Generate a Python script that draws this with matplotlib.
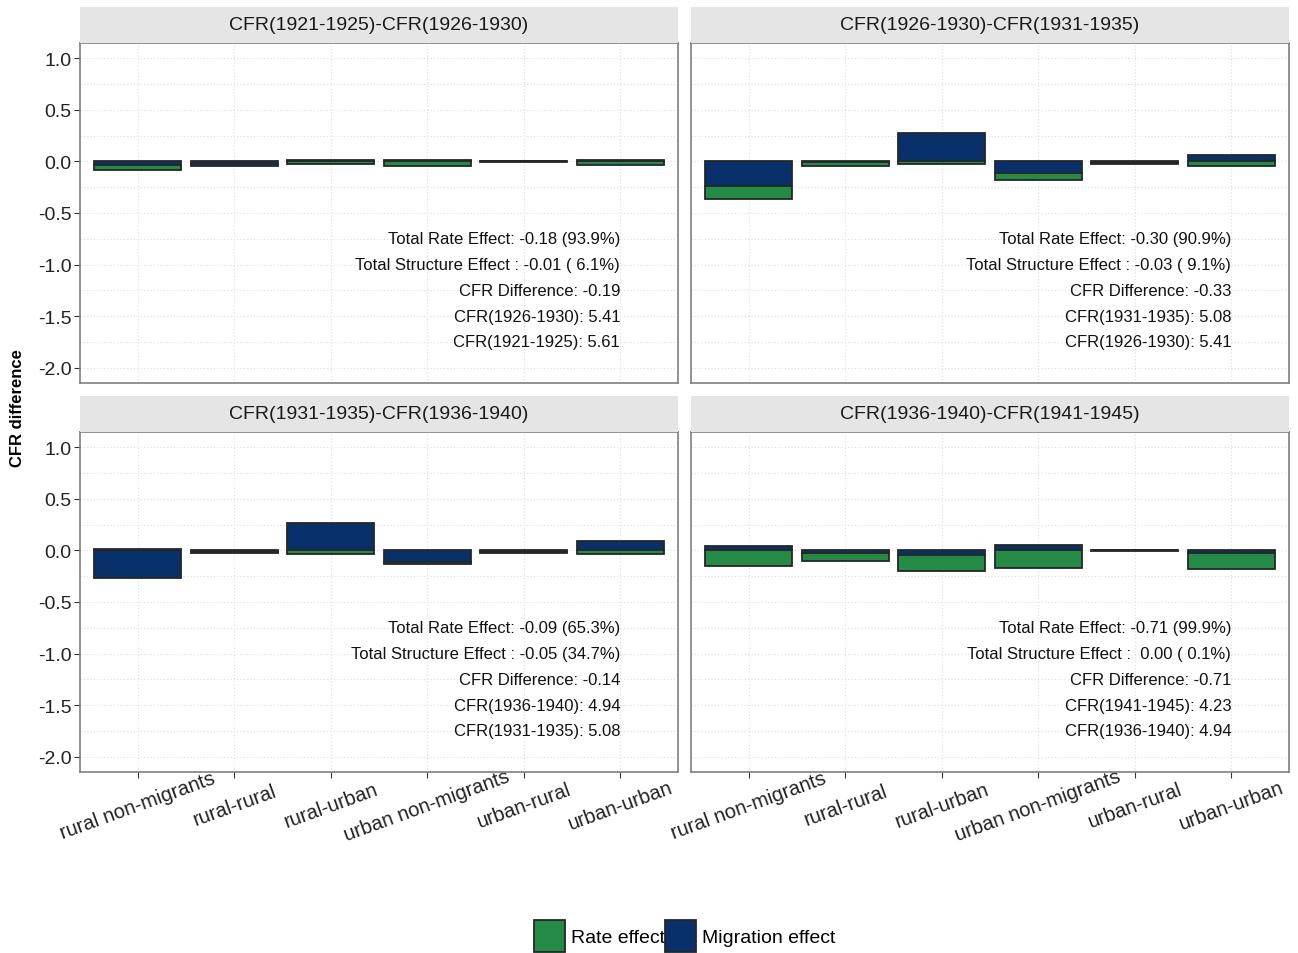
import matplotlib
matplotlib.use("Agg")
import matplotlib.pyplot as plt
from matplotlib.patches import Patch, Rectangle
import numpy as np

plt.rcParams['font.family'] = ['Liberation Sans', 'DejaVu Sans']

categories = ['rural non-migrants', 'rural-rural', 'rural-urban',
              'urban non-migrants', 'urban-rural', 'urban-urban']

panel_titles = ['CFR(1921-1925)-CFR(1926-1930)', 'CFR(1926-1930)-CFR(1931-1935)',
                'CFR(1931-1935)-CFR(1936-1940)', 'CFR(1936-1940)-CFR(1941-1945)']

rate_effect = [
    [-0.05, -0.02, -0.025, -0.045, -0.005, -0.035],
    [-0.12, -0.04, -0.02, -0.07, -0.01, -0.04],
    [0.015, -0.01, -0.035, -0.02, -0.005, -0.035],
    [-0.155, -0.075, -0.15, -0.17, -0.004, -0.16],
]
migration_effect = [
    [-0.03, -0.02, 0.01, 0.01, 0.005, 0.015],
    [-0.24, -0.005, 0.28, -0.11, -0.015, 0.06],
    [-0.27, -0.01, 0.27, -0.115, -0.015, 0.09],
    [0.04, -0.025, -0.045, 0.05, 0.002, -0.02],
]

annotations = [
    ['Total Rate Effect: -0.18 (93.9%)', 'Total Structure Effect : -0.01 ( 6.1%)',
     'CFR Difference: -0.19', 'CFR(1926-1930): 5.41', 'CFR(1921-1925): 5.61'],
    ['Total Rate Effect: -0.30 (90.9%)', 'Total Structure Effect : -0.03 ( 9.1%)',
     'CFR Difference: -0.33', 'CFR(1931-1935): 5.08', 'CFR(1926-1930): 5.41'],
    ['Total Rate Effect: -0.09 (65.3%)', 'Total Structure Effect : -0.05 (34.7%)',
     'CFR Difference: -0.14', 'CFR(1936-1940): 4.94', 'CFR(1931-1935): 5.08'],
    ['Total Rate Effect: -0.71 (99.9%)', 'Total Structure Effect :  0.00 ( 0.1%)',
     'CFR Difference: -0.71', 'CFR(1941-1945): 4.23', 'CFR(1936-1940): 4.94'],
]
annotation_y = [-0.75, -1.0, -1.25, -1.5, -1.75]

green = '#238b45'
blue = '#08306b'
edge = '#262626'

W, H = 1298, 954
fig = plt.figure(figsize=(W / 100, H / 100), dpi=100)

# panel boxes in pixels: left, top
boxes = [(80, 44), (691, 44), (80, 433), (691, 433)]
pw, ph, strip_h = 598, 340, 36

x = np.arange(1, len(categories) + 1)
for i, (left, top) in enumerate(boxes):
    ax = fig.add_axes([left / W, 1 - (top + ph) / H, pw / W, ph / H])
    mig = np.array(migration_effect[i])
    rate = np.array(rate_effect[i])
    # positives and negatives are stacked separately, migration nearest zero
    rate_bottom = np.where(np.sign(rate) == np.sign(mig), mig, 0)
    ax.bar(x, mig, width=0.9, color=blue, edgecolor=edge, linewidth=1.3, zorder=3)
    ax.bar(x, rate, bottom=rate_bottom, width=0.9, color=green, edgecolor=edge,
           linewidth=1.3, zorder=3)

    for txt, yy in zip(annotations[i], annotation_y):
        ax.text(6, yy, txt, ha='right', va='center', fontsize=12, color='#111111', zorder=4)

    ax.set_xlim(0.4, 6.6)
    ax.set_ylim(-2.15, 1.15)
    ax.set_xticks(x)
    ax.set_yticks([1.0, 0.5, 0.0, -0.5, -1.0, -1.5, -2.0])
    ax.set_yticks([0.75, 0.25, -0.25, -0.75, -1.25, -1.75], minor=True)
    ax.grid(True, which='both', axis='y', color='#dcdcdc', linestyle=(0, (1, 2)), linewidth=0.8, zorder=0)
    ax.grid(True, which='major', axis='x', color='#dcdcdc', linestyle=(0, (1, 2)), linewidth=0.8, zorder=0)
    ax.tick_params(which='minor', length=0)
    for sp in ax.spines.values():
        sp.set_color('#7f7f7f')
        sp.set_linewidth(1.2)

    if i % 2 == 0:
        ax.set_yticklabels(['1.0', '0.5', '0.0', '-0.5', '-1.0', '-1.5', '-2.0'])
        ax.tick_params(axis='y', labelsize=14, length=4, color='#333333', labelcolor='#222222', pad=2)
    else:
        ax.tick_params(axis='y', left=False, labelleft=False)

    if i >= 2:
        ax.set_xticklabels(categories, rotation=20, ha='center', va='center',
                           rotation_mode='anchor', fontsize=14.5, color='#222222')
        ax.tick_params(axis='x', length=4, color='#333333', pad=20)
    else:
        ax.tick_params(axis='x', bottom=False, labelbottom=False)

    # facet strip
    sax = fig.add_axes([left / W, 1 - (top) / H, pw / W, strip_h / H])
    sax.add_patch(Rectangle((0, 0), 1, 1, transform=sax.transAxes, color='#e5e5e5'))
    sax.set_axis_off()
    sax.text(0.5, 0.5, panel_titles[i], ha='center', va='center', fontsize=14, color='#1a1a1a')

fig.text(18 / W, 1 - 408 / H, 'CFR difference', rotation=90, ha='center', va='center',
         fontsize=12, fontweight='bold')

handles = [Patch(facecolor=green, edgecolor=edge, linewidth=1.3, label='Rate effect'),
           Patch(facecolor=blue, edgecolor=edge, linewidth=1.3, label='Migration effect')]
fig.legend(handles=handles, loc='center', bbox_to_anchor=(685 / W, 1 - 937 / H), ncol=2,
           frameon=False, fontsize=14, handlelength=1.6, handleheight=2.1,
           handletextpad=0.3, columnspacing=0.0, borderpad=0)

fig.savefig('out.png', dpi=100)
